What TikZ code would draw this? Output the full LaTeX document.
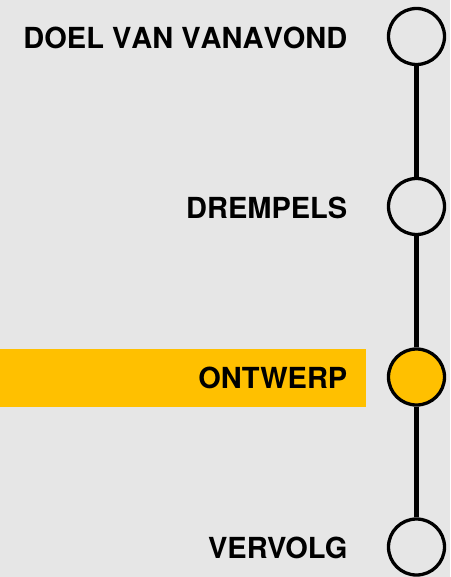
\documentclass[tikz,border=0pt]{standalone}
\usepackage{fontspec}
\setmainfont{TeX Gyre Heros}
\newfontfamily\lblfont{TeX Gyre Heros}[Kerning=Off]
\definecolor{bg}{HTML}{E6E6E6}
\definecolor{gold}{HTML}{FFC000}
\begin{document}
\begin{tikzpicture}[x=1pt,y=-1pt,
  dot/.style={circle,draw=black,line width=3.3pt,minimum size=56pt,inner sep=0pt,fill=bg},
  lbl/.style={anchor=east,font=\fontsize{29}{29}\selectfont\bfseries,inner sep=0pt},
  lblwide/.style={lbl,font=\lblfont\fontsize{29}{29}\selectfont\bfseries}]
\fill[bg] (0,0) rectangle (450,577);
\useasboundingbox (0,0) rectangle (450,577);
\fill[gold] (0,349) rectangle (366,407);
\node[dot] (c1) at (416.5,36.5) {};
\node[dot] (c2) at (416.5,206.5) {};
\node[dot,fill=gold] (c3) at (416.5,377) {};
\node[dot] (c4) at (416.5,547) {};
\draw[line width=4.8pt] (c1) -- (c2) (c2) -- (c3) (c3) -- (c4);
\node[lblwide] (t1) at (347.5,37.5) {DOEL VAN VANAVOND};
\node[lbl] (t2) at (347.5,207.5) {DREMPELS};
\node[lbl] (t3) at (347.5,378) {ONTWERP};
\node[lbl] (t4) at (347.5,548) {VERVOLG};
\end{tikzpicture}
\end{document}
